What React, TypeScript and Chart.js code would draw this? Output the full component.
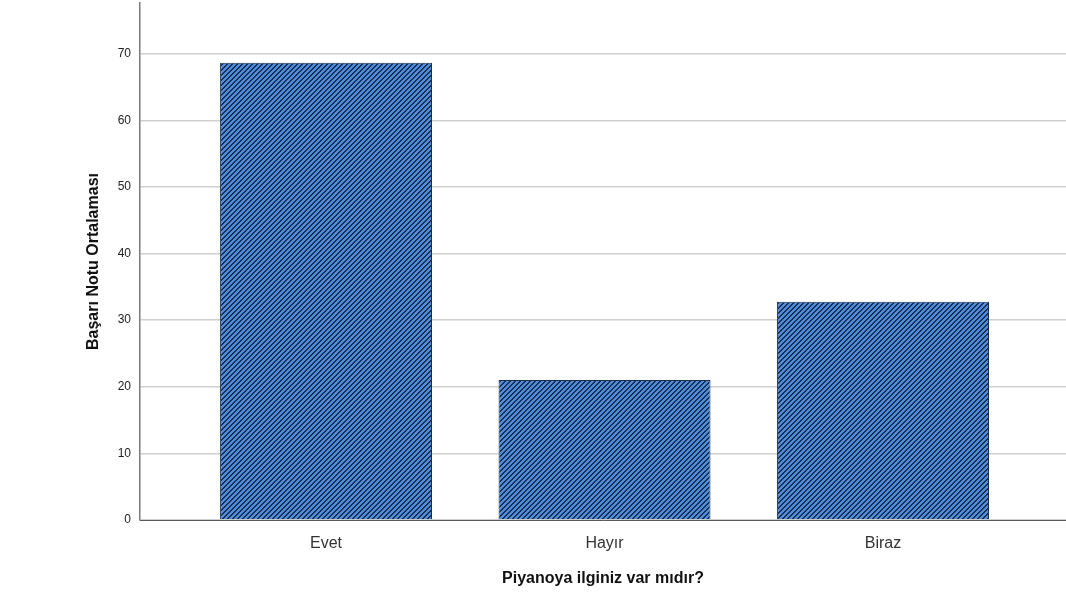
import React, { useEffect, useRef } from "react";
import { Chart, registerables } from "chart.js";

Chart.register(...registerables);

const categories: string[] = ["Evet", "Hayır", "Biraz"];
const meanScores: number[] = [68.65, 21.03, 32.75];
const yTickValues: number[] = [0, 10, 20, 30, 40, 50, 60, 70];
const yTitle = "Başarı Notu Ortalaması";
const xTitle = "Piyanoya ilginiz var mıdır?";

function makeStripePattern(): CanvasPattern | string {
  const p = 5;
  const c = document.createElement("canvas");
  c.width = p;
  c.height = p;
  const ctx = c.getContext("2d");
  if (!ctx) return "#4e8cde";
  const img = ctx.createImageData(p, p);
  for (let y = 0; y < p; y++) {
    for (let x = 0; x < p; x++) {
      const i = (y * p + x) * 4;
      const dark = (x + y) % p < 2;
      if (dark) {
        img.data[i] = 26; img.data[i + 1] = 46; img.data[i + 2] = 78;
      } else {
        img.data[i] = 78; img.data[i + 1] = 140; img.data[i + 2] = 222;
      }
      img.data[i + 3] = 255;
    }
  }
  ctx.putImageData(img, 0, 0);
  const pat = ctx.createPattern(c, "repeat");
  return pat || "#4e8cde";
}

export default function App() {
  const ref = useRef<HTMLCanvasElement | null>(null);

  useEffect(() => {
    if (!ref.current) return;
    const pattern = makeStripePattern();
    const chart = new Chart(ref.current, {
      type: "bar",
      data: {
        datasets: [
          {
            data: categories.map((c, i) => ({ x: i, y: meanScores[i] })),
            backgroundColor: pattern as any,
            borderColor: "#1c2f48",
            borderWidth: 1,
            categoryPercentage: 1,
            barPercentage: 0.761,
          },
        ],
      },
      options: {
        animation: false,
        responsive: true,
        maintainAspectRatio: false,
        layout: { padding: { left: 76, top: 3, right: 0, bottom: 0 } },
        plugins: { legend: { display: false }, tooltip: { enabled: false } },
        scales: {
          x: {
            type: "linear",
            offset: false,
            min: -0.668,
            max: 2.657,
            afterBuildTicks: (scale: any) => {
              scale.ticks = categories.map((_, i) => ({ value: i }));
            },
            afterFit: (scale: any) => {
              scale.height = 90;
              scale.paddingLeft = 0;
              scale.paddingRight = 0;
            },
            grid: { display: false, drawTicks: false, offset: false },
            border: { display: true, color: "#5a5a5a", width: 1 },
            ticks: {
              autoSkip: false,
              maxRotation: 0,
              padding: 14,
              color: "#333333",
              font: { family: "'Liberation Sans', Arial, sans-serif", size: 16 },
              callback: (v: any) => categories[Number(v)] ?? "",
            },
            title: {
              display: true,
              text: xTitle,
              color: "#111111",
              font: { family: "'Liberation Sans', Arial, sans-serif", size: 16, weight: "bold" },
              padding: { top: 0, bottom: 22 },
            },
          },
          y: {
            type: "linear",
            min: 0,
            max: 77.6,
            afterBuildTicks: (scale: any) => {
              scale.ticks = yTickValues.map((v) => ({ value: v }));
            },
            afterFit: (scale: any) => {
              scale.width = 64;
              scale.paddingTop = 0;
              scale.paddingBottom = 0;
            },
            grid: { color: "#cfcfcf", lineWidth: 1.5, drawTicks: false },
            border: { display: true, color: "#7a7a7a", width: 1.5 },
            ticks: {
              padding: 9,
              color: "#222222",
              font: { family: "'Liberation Sans', Arial, sans-serif", size: 12 },
            },
            title: {
              display: true,
              text: yTitle,
              color: "#111111",
              font: { family: "'Liberation Sans', Arial, sans-serif", size: 16, weight: "bold" },
              padding: { top: 8, bottom: 0 },
            },
          },
        },
      },
    });
    return () => chart.destroy();
  }, []);

  return (
    <div style={{ position: "absolute", left: 0, top: 0, width: 1066, height: 610, background: "#ffffff" }}>
      <canvas ref={ref} />
    </div>
  );
}
